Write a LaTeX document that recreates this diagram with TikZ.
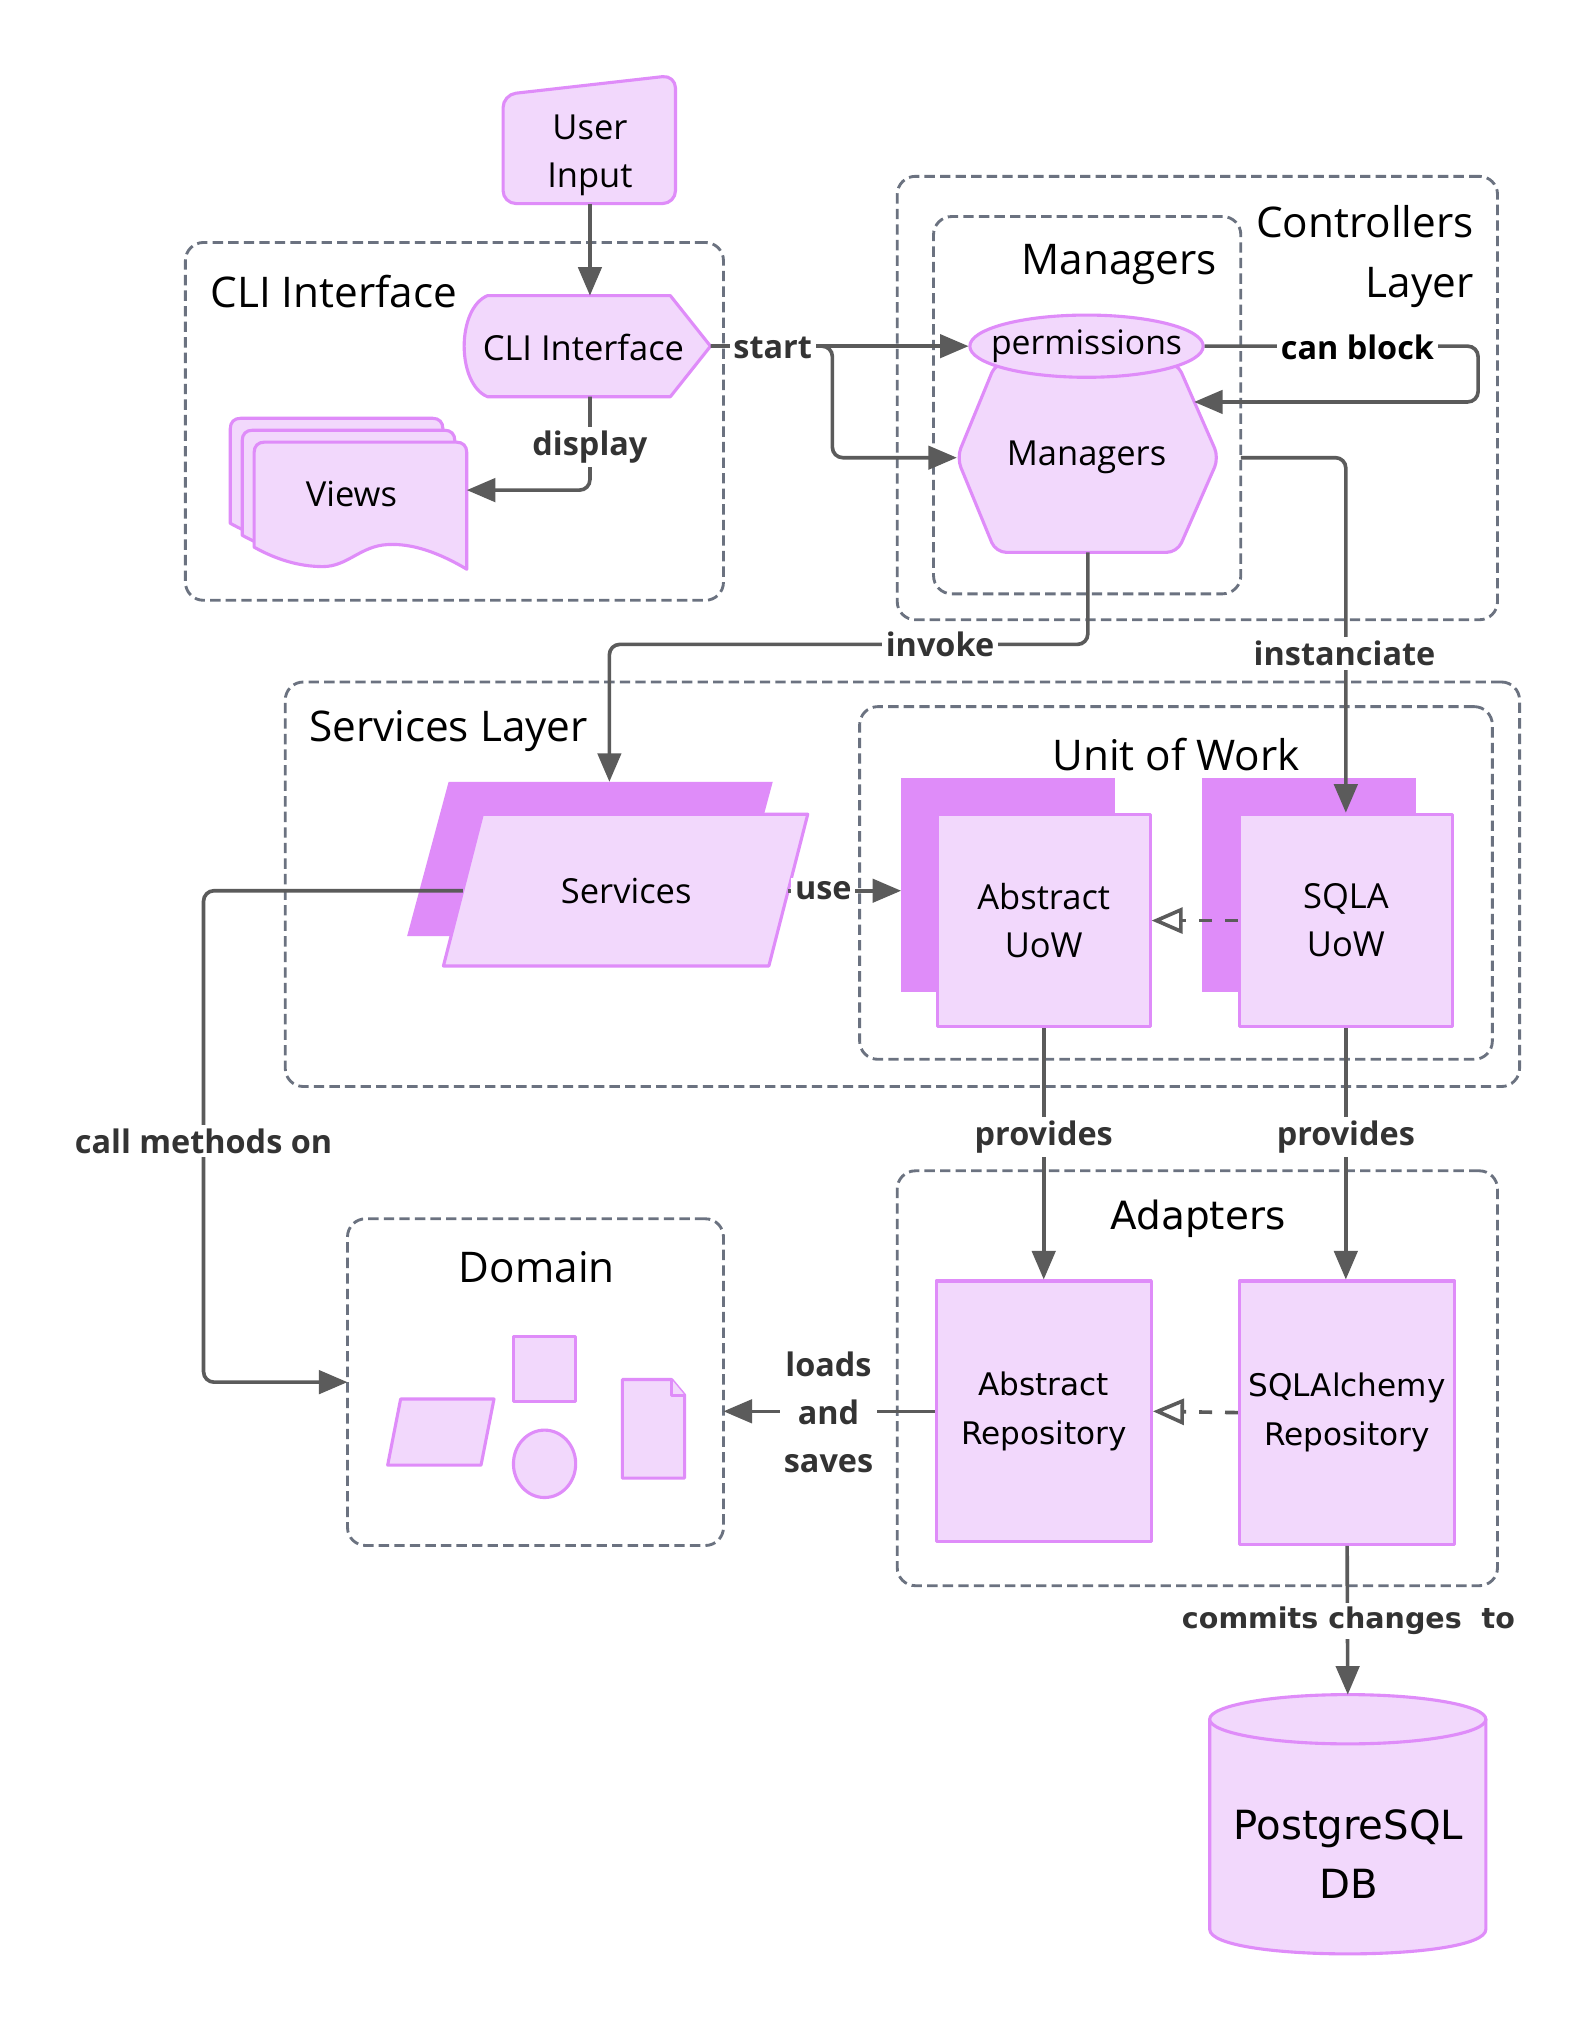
\documentclass[tikz,border=0pt]{standalone}
\usepackage{fontspec}
\setmainfont{Open Sans}
\newfontfamily\dejavu{DejaVu Sans}
\usetikzlibrary{arrows.meta,shapes.geometric}
\definecolor{nfill}{HTML}{F2D8FC}
\definecolor{nstroke}{HTML}{DF8CF9}
\definecolor{clc}{HTML}{6B7280}
\definecolor{edgec}{HTML}{5B5B5B}
\definecolor{lblc}{HTML}{333333}
\tikzset{
  shp/.style={fill=nfill, draw=nstroke, line width=1.2pt, line join=round},
  shadowfill/.style={fill=nstroke, draw=none},
  cluster/.style={draw=clc, line width=1.1pt, dash pattern=on 4pt off 2pt, rounded corners=7pt, inner sep=0pt, outer sep=0pt},
  edg/.style={draw=edgec, line width=1.4pt, rounded corners=4pt, -{Triangle[length=11pt,width=9pt]}},
  real/.style={draw=edgec, line width=1.4pt, dash pattern=on 5pt off 5pt, -{Triangle[open,length=12pt,width=10pt]}},
  elab/.style={fill=white, text=lblc, font=\bfseries\fontsize{12.5}{18.5}\selectfont, inner sep=1.5pt, align=center},
  ntext/.style={font=\fontsize{13.3}{18.5}\selectfont, align=center, inner sep=0pt},
  dtext/.style={font=\dejavu\fontsize{12}{19}\selectfont, align=center, inner sep=0pt},
  head/.style={font=\fontsize{16.3}{23}\selectfont, inner sep=0pt},
}
\begin{document}
\begin{tikzpicture}[x=0.5pt, y=-0.5pt]
\fill[white] (0,0) rectangle (1229,1568);
\useasboundingbox (0,0) rectangle (1229,1568);

% clusters
\node[cluster, minimum width=207.5pt, minimum height=138pt] (cliG) at (350.5,325) {};
\node[cluster, minimum width=231.5pt, minimum height=171pt] (ctrlG) at (923.5,307) {};
\node[cluster, minimum width=118.5pt, minimum height=145.5pt] (mgrG) at (838.5,312.5) {};
\node[cluster, minimum width=476pt, minimum height=156pt] (svcG) at (696,682) {};
\node[cluster, minimum width=244pt, minimum height=136pt] (uowG) at (907,681) {};
\node[cluster, minimum width=231.5pt, minimum height=160pt] (adpG) at (923.5,1063) {};
\node[cluster, minimum width=145pt, minimum height=126pt] (domG) at (413,1066) {};

% cluster titles
\node[head, anchor=west] (cliT) at (162,225) {CLI Interface};
\node[head, anchor=east, align=right] (ctrlT) at (1137,198) {Controllers\\Layer};
\node[head, anchor=east] (mgrT) at (939,204) {Managers};
\node[head, anchor=west] (svcT) at (238,564) {Services Layer};
\node[head] (uowT) at (907,582) {Unit of Work};
\node[head] (domT) at (414,977) {Domain};
\node[head, font=\dejavu\fontsize{15}{23}\selectfont] (adpT) at (924,940) {Adapters};

% User Input
\draw[shp, rounded corners=5pt] (388,73) -- (521,58) -- (521,157) -- (388,157) -- cycle;
\node[ntext] (ui) at (455,120) {User\\Input};

% CLI Interface node
\draw[shp] (376,306) .. controls (352,296) and (352,238) .. (376,228) -- (517,228) -- (548,267) -- (517,306) -- cycle;
\node[ntext] (cli) at (450,268) {CLI Interface};

% Views (stacked documents)
\foreach \o in {18.4,9.2,0}{
\begin{scope}[shift={(-\o,-\o)}]
\draw[shp] (196,422) -- (196,349) .. controls (196,344) and (199,341) .. (204,341) -- (352,341)
  .. controls (357,341) and (360,344) .. (360,349) -- (360,439)
  .. controls (338,426) and (318,419) .. (299,420)
  .. controls (278,421) and (268,437) .. (249,437)
  .. controls (230,437) and (212,431) .. (196,422) -- cycle;
\end{scope}
}
\node[ntext] (views) at (271,381) {Views};

% Managers hexagon + permissions
\draw[shp, rounded corners=4pt] (768,280) -- (908,280) -- (940,353) -- (908,426) -- (768,426) -- (738,353) -- cycle;
\node[ntext] (mgr) at (838,353) {Managers};
\draw[shp] (838,267) ellipse [x radius=45pt, y radius=12pt];
\node[font=\fontsize{13}{15}\selectfont, inner sep=0pt] (perm) at (838,267) {permissions};

% Services
\fill[shadowfill] (346,603) -- (596,603) -- (564,722) -- (314,722) -- cycle;
\draw[shp] (372,628) -- (623,628) -- (593,745) -- (342,745) -- cycle;
\node[ntext] (svc) at (483,687) {Services};

% Unit of work boxes
\fill[shadowfill] (695,600) rectangle (860,765);
\node[shp, ntext, minimum width=82pt, minimum height=82pt] (absuow) at (805,710) {Abstract\\UoW};
\fill[shadowfill] (927,600) rectangle (1092,765);
\node[shp, ntext, minimum width=82pt, minimum height=82pt] (sqlauow) at (1038,710) {SQLA\\UoW};

% Repositories
\node[shp, dtext, minimum width=83pt, minimum height=100.5pt] (absrepo) at (805,1088.5) {Abstract\\Repository};
\node[shp, dtext, minimum width=83pt, minimum height=101.5pt] (sqlrepo) at (1039,1089.5) {SQLAlchemy\\Repository};

% Domain shapes
\draw[shp] (309,1079) -- (381,1079) -- (371,1130) -- (299,1130) -- cycle;
\draw[shp] (396,1031) rectangle (444,1081);
\draw[shp] (420,1129) ellipse [x radius=12pt, y radius=13pt];
\draw[shp] (480,1064) -- (518,1064) -- (528,1076) -- (528,1140) -- (480,1140) -- cycle;
\draw[shp] (518,1064) -- (518,1076) -- (528,1076);

% Database
\draw[shp] (933,1326) -- (933,1488) .. controls (933,1513.3) and (1146,1513.3) .. (1146,1488) -- (1146,1326) -- cycle;
\draw[shp] (1039.5,1326) ellipse [x radius=53.25pt, y radius=9.5pt];
\node[font=\dejavu\fontsize{15.5}{23}\selectfont, align=center, inner sep=0pt] (db) at (1040,1430) {PostgreSQL\\DB};

% connector end points
\coordinate (ui-s) at (455,157);
\coordinate (cli-n) at (455,228);
\coordinate (cli-s) at (455,306);
\coordinate (cli-e) at (548,267);
\coordinate (views-e) at (360,378);
\coordinate (split) at (642,267);
\coordinate (perm-w) at (747,267);
\coordinate (perm-e) at (929,267);
\coordinate (mgr-w) at (738,353);
\coordinate (mgr-ne) at (921,310);
\coordinate (loop) at (1140,267);
\coordinate (mgr-s) at (839,426);
\coordinate (bend) at (839,497);
\coordinate (svc-n) at (470,603);
\coordinate (svc-w) at (357,687);
\coordinate (svc-e) at (608,687);
\coordinate (abssh-w) at (695,687);
\coordinate (callx) at (157,687);
\coordinate (db-n) at (1039.5,1307);

% connectors
\draw[edg] (ui-s) -- (cli-n);
\draw[edg] (cli-s) |- (views-e);
\draw[edg] (cli-e) -- (perm-w);
\draw[edg] (cli-e) -- (split) |- (mgr-w);
\draw[edg] (perm-e) -- (loop) |- (mgr-ne);
\draw[edg] (mgr-s) -- (bend) -| (svc-n);
\draw[edg] (mgrG.east |- mgr-w) -| (sqlauow.north);
\draw[edg] (svc-w) -- (callx) |- (domG.west);
\draw[edg] (svc-e) -- (abssh-w);
\draw[real] (sqlauow.west) -- (absuow.east);
\draw[edg] (absuow.south) -- (absrepo.north);
\draw[edg] (sqlauow.south) -- (sqlauow.south |- sqlrepo.north);
\draw[real] (sqlrepo.west) -- (absrepo.east);
\draw[edg] (absrepo.west) -- (domG.east |- absrepo.west);
\draw[edg] (sqlrepo.south) -- (db-n);

% edge labels
\node[elab] (l-start) at (596,268) {start};
\node[elab] (l-display) at (455,345) {display};
\node[elab, text=black] (l-block) at (1047,268) {can block};
\node[elab] (l-invoke) at (725,497) {invoke};
\node[elab] (l-inst) at (1037,504) {instanciate};
\node[elab] (l-use) at (635,687) {use};
\node[elab] (l-call) at (157,880) {call methods on};
\node[elab] (l-prov1) at (805,877) {provides};
\node[elab] (l-prov2) at (1038,877) {provides};
\node[elab] (l-loads) at (639,1089) {loads\\and\\saves};
\node[elab, font=\dejavu\bfseries\fontsize{11}{14}\selectfont] (l-commit) at (1040,1250) {commits changes\ \ to};
\end{tikzpicture}
\end{document}
